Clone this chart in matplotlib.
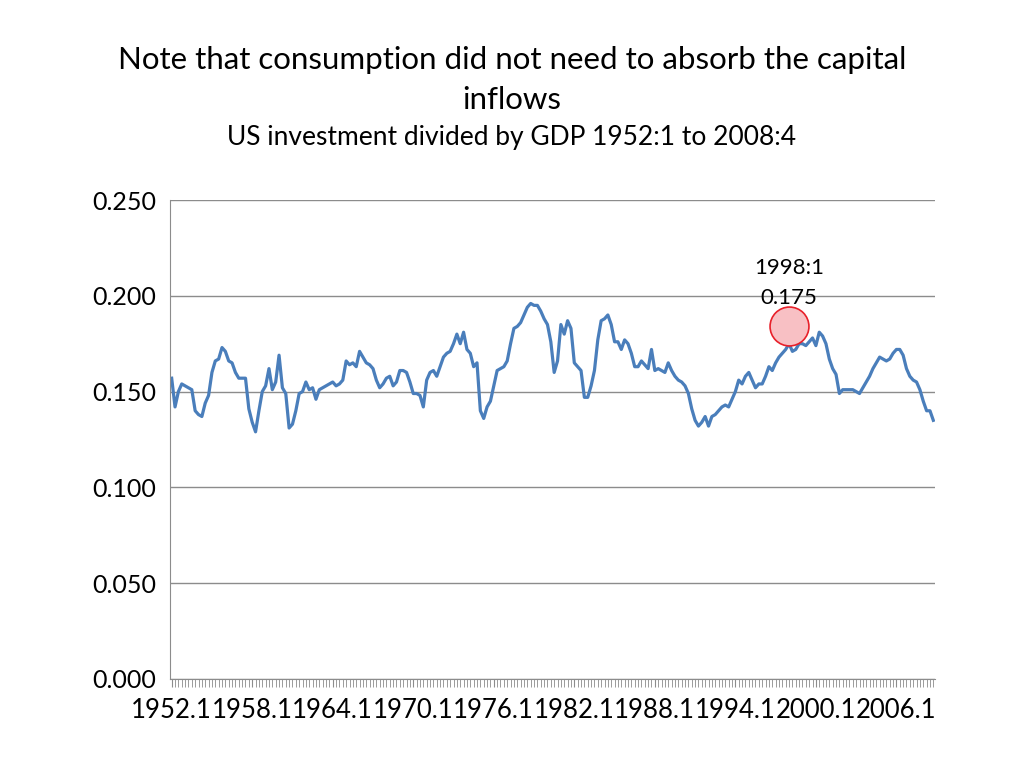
import matplotlib
matplotlib.use("Agg")
import matplotlib.pyplot as plt
import numpy as np

plt.rcParams["font.family"] = ["Lato", "DejaVu Sans"]

# US investment / GDP, quarterly 1952:1 - 2008:4
inv_gdp = [
    .157, .142, .150, .154, .153, .152, .151, .140, .138, .137, .144, .148,
    .160, .166, .167, .173, .171, .166, .165, .160, .157, .157, .157, .141,
    .134, .129, .140, .150, .153, .162, .151, .155, .169, .152, .149, .131,
    .133, .140, .149, .150, .155, .151, .152, .146, .151, .152, .153, .154,
    .155, .153, .154, .156, .166, .164, .165, .163, .171, .168, .165,
    .164, .162, .156, .152, .154, .157, .158, .153, .155, .161, .161, .160,
    .155, .149, .149, .148, .142, .156, .160, .161, .158, .163, .168, .170,
    .171, .175, .180, .175, .181, .172, .170, .163, .165, .140, .136, .142,
    .145, .153, .161, .162, .163, .166, .175, .183, .184, .186, .190, .194,
    .196, .195, .195, .192, .188, .185, .176, .160, .166,
    .185, .180, .187, .183, .165, .163, .161, .147, .147, .153, .161, .177,
    .187, .188, .190, .185, .176, .176, .172, .177, .175, .170, .163, .163,
    .166, .164, .162, .172, .161, .162, .161, .160, .165, .161, .158, .156,
    .155, .153, .149, .141, .135, .132, .134, .137, .132, .137, .138, .140,
    .142, .143, .142, .146, .150, .156, .154, .158,
    .160, .156, .152, .154, .154, .158, .163, .161, .165, .168, .170, .172,
    .175, .171, .172, .175, .175, .174, .176, .178, .174, .181, .179, .175,
    .167, .162, .159, .149, .151, .151, .151, .151, .150, .149, .152, .155,
    .158, .162, .165, .168, .167, .166, .167, .170, .172, .172, .169, .162,
    .158, .156, .155, .151, .145, .140, .140, .135,
]
quarters = ["%d.%d" % (1952 + i // 4, i % 4 + 1) for i in range(len(inv_gdp))]
label_every = 24
highlight = "1998.1"

fig = plt.figure(figsize=(10.24, 7.68), dpi=100)
ax = fig.add_axes([170 / 1024, 1 - 679 / 768, 765 / 1024, 479 / 768])

x = np.arange(len(inv_gdp))
ax.plot(x, inv_gdp, color="#4a7ebb", linewidth=2.3)

hi = quarters.index(highlight)
ax.plot(hi, inv_gdp[hi] + 0.009, "o", markersize=28, markerfacecolor="#f8c0c4",
        markeredgecolor="#e8202a", markeredgewidth=1.2, zorder=3)
ax.text(hi, inv_gdp[hi] + 0.0395, highlight.replace(".", ":"), ha="center",
        va="center", fontsize=16)
ax.text(hi, inv_gdp[hi] + 0.024, "%.3f" % inv_gdp[hi], ha="center",
        va="center", fontsize=16)

ax.set_ylim(0, 0.25)
ax.set_xlim(-0.5, len(inv_gdp) - 0.5)
ax.set_yticks(np.arange(0, 0.251, 0.05))
ax.set_yticklabels(["%.3f" % v for v in np.arange(0, 0.251, 0.05)], fontsize=18)
ax.yaxis.grid(True, color="#8c8c8c", linewidth=1)
ax.set_axisbelow(True)
ax.tick_params(axis="y", length=0, pad=10)

ax.set_xticks(x, minor=True)
ax.set_xticks(x[::label_every])
ax.set_xticklabels(quarters[::label_every], fontsize=18.5)
ax.tick_params(axis="x", which="minor", length=6, color="#8c8c8c", width=0.6)
ax.tick_params(axis="x", which="major", length=6, color="#8c8c8c", pad=8)

for s in ["top", "right"]:
    ax.spines[s].set_visible(False)
ax.spines["left"].set_color("#8c8c8c")
ax.spines["bottom"].set_color("#8c8c8c")

fig.text(0.5, 1 - 60 / 768, "Note that consumption did not need to absorb the capital",
         ha="center", va="center", fontsize=22.5)
fig.text(0.5, 1 - 100 / 768, "inflows", ha="center", va="center", fontsize=22.5)
fig.text(0.5, 1 - 138 / 768, "US investment divided by GDP 1952:1 to 2008:4",
         ha="center", va="center", fontsize=19)

fig.savefig("out.png", dpi=100, facecolor="white")
